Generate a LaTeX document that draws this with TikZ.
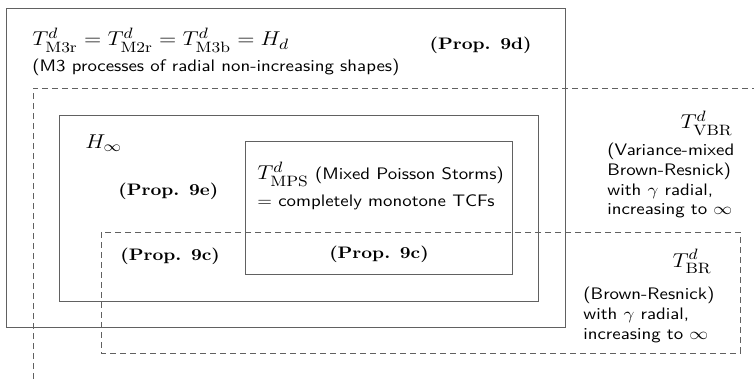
\documentclass[tikz,border=0pt]{standalone}
\usepackage{amsmath}
\newcommand{\bigmath}[1]{{\fontsize{12.2}{14}\selectfont$#1$}}
\begin{document}
\begin{tikzpicture}[x=0.6pt,y=-0.6pt,
  frame/.style={draw=black!62, line width=0.55pt},
  dashframe/.style={draw=black!62, line width=0.55pt, dash pattern=on 3.6pt off 2.4pt},
  txt/.style={inner sep=0pt, xscale=1.13, align=left,
    font=\sffamily\fontsize{10}{11.8}\selectfont},
  prop/.style={inner sep=0pt, xscale=1.13, font=\bfseries}]
\useasboundingbox (0,0) rectangle (754,379);

% class boxes
\draw[frame] (6,8) rectangle (565,327);          % M3 processes
\draw[dashframe] (33,379) -- (33,88) -- (754,88); % variance-mixed Brown-Resnick
\draw[frame] (59,115) rectangle (538,301);       % H_infinity
\draw[frame] (245,141) rectangle (512,274);      % mixed Poisson storms
\draw[dashframe] (101,232) rectangle (740,353);  % Brown-Resnick

% M3 labels
\node[txt, anchor=base west] (m3) at (32,46)
  {\bigmath{T^d_{\mathrm{M3r}} = T^d_{\mathrm{M2r}} = T^d_{\mathrm{M3b}} = H_d}};
\node[txt, anchor=base west] (m3d) at (32,72)
  {(M3 processes of radial non-increasing shapes)};
\node[prop, anchor=base east] (p9d) at (532,50) {(Prop. 9d)};

% H_infinity labels
\node[txt, anchor=base west] (hinf) at (85,149) {\bigmath{H_\infty}};
\node[prop, anchor=base west] (p9e) at (118,196) {(Prop. 9e)};
\node[prop, anchor=base west] (p9cl) at (120,260) {(Prop. 9c)};

% mixed Poisson storms labels
\node[txt, anchor=base west] (mps) at (257,180)
  {\bigmath{T^d_{\mathrm{MPS}}} (Mixed Poisson Storms)};
\node[txt, anchor=base west] (mpsd) at (257,207)
  {$=$ completely monotone TCFs};
\node[prop, anchor=base] (p9cm) at (379,258) {(Prop. 9c)};

% variance-mixed Brown-Resnick labels
\node[txt, anchor=base east] (vbr) at (733,129) {\bigmath{T^d_{\mathrm{VBR}}}};
\node[txt, anchor=base west] (vbrd) at (607,215)
  {(Variance-mixed\\Brown-Resnick)\\with $\gamma$ radial,\\increasing to $\infty$};

% Brown-Resnick labels
\node[txt, anchor=base east] (br) at (712,267) {\bigmath{T^d_{\mathrm{BR}}}};
\node[txt, anchor=base west] (brd) at (583,339)
  {(Brown-Resnick)\\with $\gamma$ radial,\\increasing to $\infty$};
\end{tikzpicture}
\end{document}
